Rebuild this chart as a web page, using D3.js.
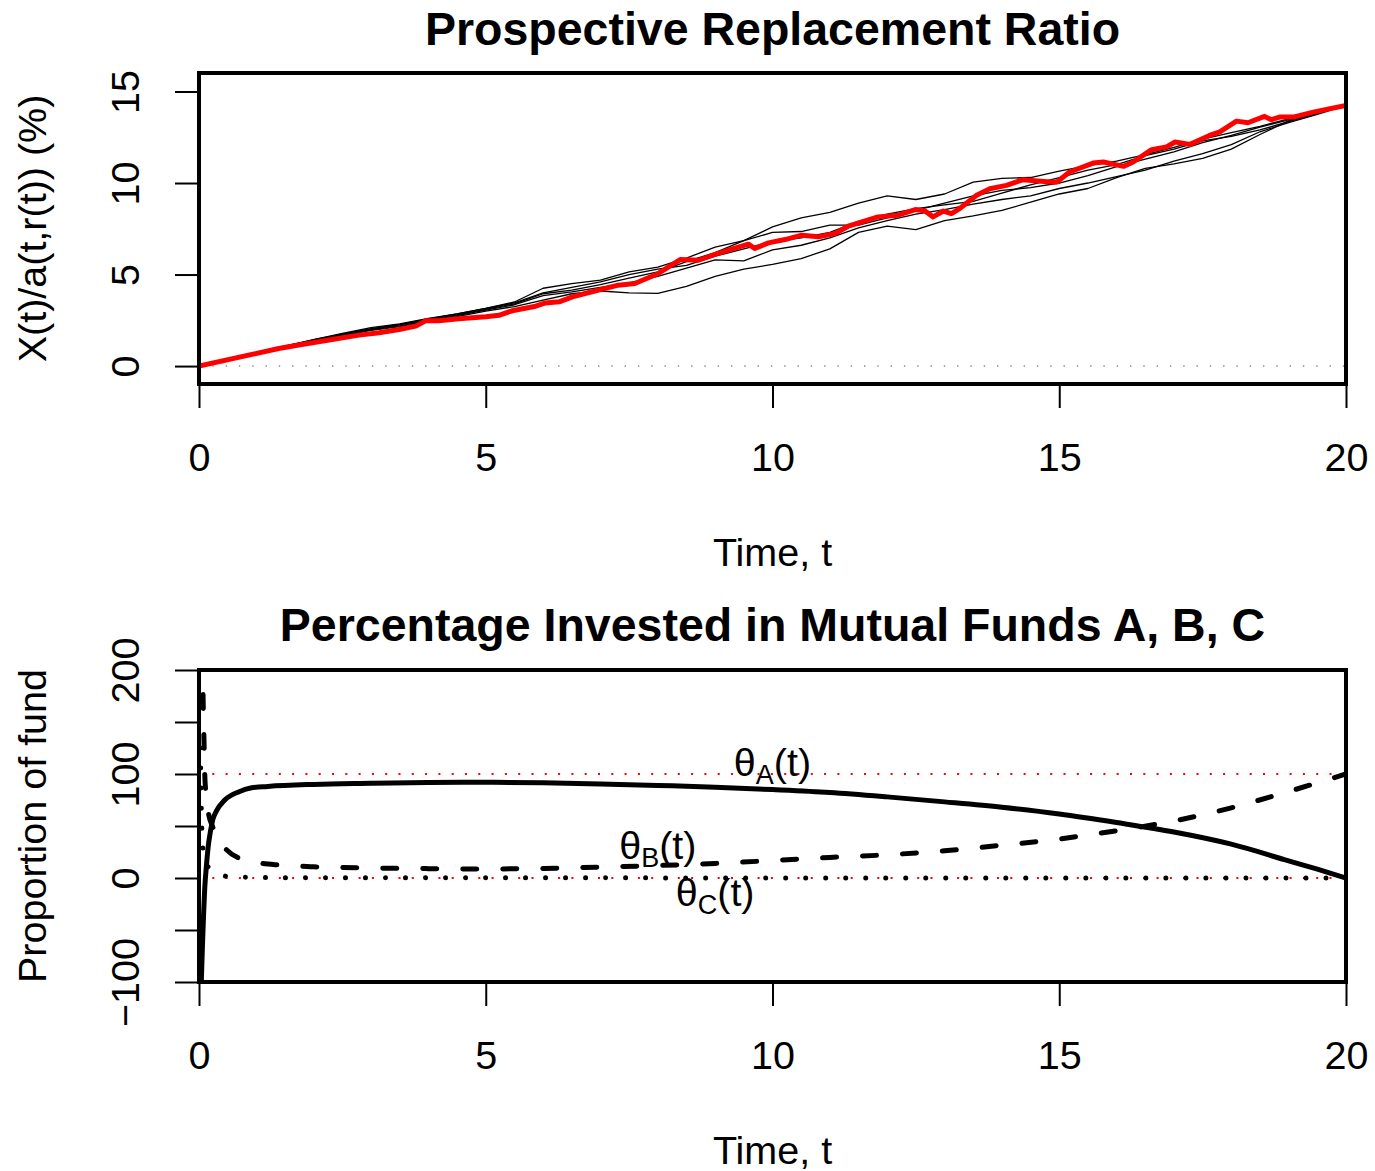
<!DOCTYPE html>
<html>
<head>
<meta charset="utf-8">
<script src="https://cdn.jsdelivr.net/npm/d3@7"></script>
<style>
  body { margin: 0; background: #fff; }
  text { font-family: "Liberation Sans", Arial, Helvetica, sans-serif; fill: #000; }
</style>
</head>
<body>
<svg id="chart" width="1375" height="1171"></svg>
<script>
// ---------- data ----------
// time grid shared by the five simulated paths (years)
const simT = [0,0.5,1,1.5,2,2.5,3,3.5,4,4.5,5,5.5,6,6.5,7,7.5,8,8.5,9,9.5,10,
              10.5,11,11.5,12,12.5,13,13.5,14,14.5,15,15.5,16,16.5,17,17.5,18,18.5,19,19.5,20];
// simulated replacement-ratio paths (%)
const simPath1 = [0,0.35,0.7,1.08,1.45,1.78,2.1,2.3,2.6,2.85,3.15,3.5,4.25,4.5,4.7,5.15,5.4,5.9,6.5,6.85,7.6,
                  8.1,8.4,8.9,9.3,9.1,9.4,10.05,10.25,10.3,10.65,10.95,11.2,11.55,11.95,12.4,12.75,13.1,13.5,13.85,14.24];
const simPath2 = [0,0.36,0.72,1.1,1.42,1.72,2.0,2.25,2.55,2.8,3.1,3.4,3.95,4.15,4.45,4.8,5.15,5.7,6.2,6.85,7.3,
                  7.35,7.7,7.7,8.1,8.5,8.9,9.3,9.6,9.75,10.0,10.4,10.9,11.3,11.7,12.2,12.6,13.05,13.45,13.8,14.24];
const simPath3 = [0,0.34,0.7,1.05,1.4,1.7,1.98,2.2,2.5,2.75,3.05,3.35,3.85,4.05,4.3,4.55,4.9,5.35,5.8,5.75,6.35,
                  6.6,7.0,7.55,7.95,8.3,8.55,8.85,9.1,9.3,9.7,10.0,10.35,10.7,11.2,11.6,12.1,12.8,13.3,13.75,14.24];
const simPath4 = [0,0.36,0.71,1.08,1.45,1.75,2.05,2.28,2.58,2.85,3.15,3.45,4.0,4.3,4.6,5.0,5.3,5.5,6.0,6.4,6.8,
                  7.0,7.3,7.9,8.3,8.6,8.8,9.0,9.45,9.9,10.3,10.7,11.0,11.5,11.85,12.3,12.55,12.9,13.35,13.8,14.24];
const simPath5 = [0,0.35,0.7,1.05,1.38,1.65,1.95,2.15,2.45,2.7,3.0,3.25,3.6,3.95,4.1,4.0,3.97,4.35,4.9,5.3,5.55,
                  5.87,6.4,7.3,7.65,7.45,7.95,8.2,8.5,8.95,9.4,9.7,10.3,10.8,11.05,11.35,11.85,12.65,13.4,13.85,14.24];
const simPaths = [simPath1, simPath2, simPath3, simPath4, simPath5];

// highlighted path
const redT = [0,1.39,1.74,2.32,2.79,3.14,3.49,3.78,3.95,4.18,4.53,5.0,5.23,5.46,5.87,6.04,6.28,6.51,6.8,7.31,7.6,
              8.01,8.39,8.71,9.05,9.29,9.58,9.69,9.93,10.22,10.51,10.8,11.09,11.32,11.56,11.84,12.19,12.49,12.66,
              12.8,12.98,13.12,13.27,13.56,13.79,14.08,14.37,14.84,14.96,15.18,15.59,15.77,16.12,16.29,16.61,16.87,
              17.02,17.28,17.62,17.8,18.09,18.29,18.58,18.7,18.84,19.08,19.43,20];
const redV = [0,0.96,1.15,1.45,1.69,1.82,2.0,2.18,2.47,2.47,2.58,2.69,2.77,3.02,3.27,3.45,3.51,3.78,4.02,4.42,4.51,
              5.06,5.82,5.78,6.15,6.39,6.66,6.42,6.73,6.91,7.15,7.06,7.24,7.64,7.87,8.15,8.24,8.55,8.47,
              8.15,8.47,8.33,8.62,9.33,9.69,9.87,10.18,10.06,10.06,10.6,11.09,11.15,10.91,11.15,11.82,11.97,
              12.24,12.11,12.6,12.79,13.38,13.29,13.64,13.46,13.6,13.6,13.87,14.24];

// fund proportions (%)
const fundAT = [0.04,0.06,0.08,0.1,0.13,0.16,0.2,0.24,0.3,0.45,0.7,0.9,1.2,2,3,4,5,6,7,8,9,10,11,12,13,14,15,16,17,18,19,19.5,20];
const fundAV = [-100,-65,-35,-10,12,30,45,56,64,75,83,86.5,88,90,91,91.8,92,91.5,90.5,89,87.3,85,82.2,78,73.2,68,61.5,53.3,44.2,32.5,16.5,8.5,0];
const fundBT = [0.06,0.07,0.08,0.09,0.1,0.12,0.16,0.24,0.35,0.45,0.7,1.1,1.4,2,3,4,5,6,7,8,9,10,11,12,13,14,15,16,17,18,19,20];
const fundBV = [215,178,150,125,100,82,64,49,37,29,19,14,12.5,10.8,9.6,9,8.7,9.2,10.5,12,14,16.8,19.8,22.3,26.2,31.5,37.5,45.5,54.8,67.5,83.2,100];
const fundCT = [0.02,0.03,0.04,0.05,0.07,0.1,0.2,0.35,0.5,1,2,5,10,15,20];
const fundCV = [125,105,70,45,26,15,9,4,1.5,0.5,0.3,0.2,0.1,0.1,0];

// axes
const xTicks = [0,5,10,15,20];
const topYTicks = [0,5,10,15];
const botYTicks = [-100,-50,0,50,100,150,200];
const botYLabels = [-100,0,100,200];
const refLevels = [0,100];

// curve labels: [t, value]
const labelA = [10,110];
const labelB = [8,30];
const labelC = [9,-15];

// ---------- drawing ----------
const svg = d3.select("#chart");
svg.append("rect").attr("width",1375).attr("height",1171).attr("fill","#fff");

const FS = 39.5;           // base font size
const FS_MAIN = 46.5;      // panel titles
const plotL = 199, plotR = 1346;
const x = d3.scaleLinear().domain([0,20]).range([plotL, plotR]);

const topBox = {top:73, bottom:384};
const botBox = {top:670, bottom:982};
const yTop = d3.scaleLinear().domain([-0.98,16.01]).range([topBox.bottom, topBox.top]);
const yBot = d3.scaleLinear().domain([-100,200]).range([botBox.bottom, botBox.top]);

const numFmt = d3.format("");

function panel(id, box, y, yTicks, yLabelVals, title, titleBase, xLabBase, ylab) {
  const g = svg.append("g");
  g.append("clipPath").attr("id", id)
    .append("rect").attr("x", plotL).attr("y", box.top)
    .attr("width", plotR - plotL).attr("height", box.bottom - box.top);

  // x axis
  const ax = g.append("g").attr("transform", `translate(0,${box.bottom})`)
    .call(d3.axisBottom(x).tickValues(xTicks).tickSize(24).tickSizeOuter(0).tickFormat(d3.format("d")));
  ax.select(".domain").remove();
  ax.selectAll(".tick line").attr("stroke","#000").attr("stroke-width",2);
  ax.selectAll(".tick text").attr("y", 87).attr("dy", 0)
    .style("font-size", FS + "px").attr("fill","#000");

  // y axis (labels rotated)
  const ay = g.append("g").attr("transform", `translate(${plotL},0)`)
    .call(d3.axisLeft(y).tickValues(yTicks).tickSize(24).tickSizeOuter(0)
      .tickFormat(d => yLabelVals.includes(d) ? numFmt(d) : ""));
  ay.select(".domain").remove();
  ay.selectAll(".tick line").attr("stroke","#000").attr("stroke-width",2);
  ay.selectAll(".tick text").attr("x", 0).attr("dy", 0)
    .attr("transform", `translate(${139 - plotL},0) rotate(-90)`)
    .attr("text-anchor","middle")
    .style("font-size", FS + "px").attr("fill","#000");

  // titles
  g.append("text").attr("x", (plotL + plotR) / 2).attr("y", titleBase)
    .attr("text-anchor","middle").style("font-size", FS_MAIN + "px").style("font-weight","bold").text(title);
  g.append("text").attr("x", (plotL + plotR) / 2).attr("y", xLabBase)
    .attr("text-anchor","middle").style("font-size", FS + "px").text("Time, t");
  g.append("text").attr("transform", `translate(46,${(box.top + box.bottom) / 2}) rotate(-90)`)
    .attr("text-anchor","middle").style("font-size", FS + "px").text(ylab);

  const plot = g.append("g").attr("clip-path", `url(#${id})`);
  return {g, plot};
}

function frame(g, box) {
  g.append("rect").attr("x", plotL).attr("y", box.top)
    .attr("width", plotR - plotL).attr("height", box.bottom - box.top)
    .attr("fill","none").attr("stroke","#000").attr("stroke-width",4);
}

// ---- top panel ----
const P1 = panel("clipTop", topBox, yTop, topYTicks, topYTicks,
  "Prospective Replacement Ratio", 45, 566, "X(t)/a(t,r(t)) (%)");

P1.plot.append("line")
  .attr("x1", x(0)).attr("x2", x(20)).attr("y1", yTop(0)).attr("y2", yTop(0))
  .attr("stroke","#8a8a8a").attr("stroke-width",1.4).attr("stroke-dasharray","1.4,11.9");

const lineTop = d3.line().x(d => x(d[0])).y(d => yTop(d[1]));
simPaths.forEach(p => {
  P1.plot.append("path").datum(simT.map((t,i) => [t, p[i]]))
    .attr("d", lineTop).attr("fill","none").attr("stroke","#000")
    .attr("stroke-width",1.3).attr("stroke-linejoin","round");
});
P1.plot.append("path").datum(redT.map((t,i) => [t, redV[i]]))
  .attr("d", lineTop).attr("fill","none").attr("stroke","#ff0000")
  .attr("stroke-width",5).attr("stroke-linejoin","round").attr("stroke-linecap","round");
frame(P1.g, topBox);

// ---- bottom panel ----
const P2 = panel("clipBot", botBox, yBot, botYTicks, botYLabels,
  "Percentage Invested in Mutual Funds A, B, C", 641, 1164, "Proportion of fund");

refLevels.forEach(v => {
  P2.plot.append("line")
    .attr("x1", x(0)).attr("x2", x(20)).attr("y1", yBot(v)).attr("y2", yBot(v))
    .attr("stroke","#ff0000").attr("stroke-width",2).attr("stroke-dasharray","2,11.3");
});

const lineBot = d3.line().curve(d3.curveMonotoneX).x(d => x(d[0])).y(d => yBot(d[1]));
P2.plot.append("path").datum(fundAT.map((t,i) => [t, fundAV[i]]))
  .attr("d", lineBot).attr("fill","none").attr("stroke","#000")
  .attr("stroke-width",5).attr("stroke-linejoin","round").attr("stroke-linecap","round");
P2.plot.append("path").datum(fundBT.map((t,i) => [t, fundBV[i]]))
  .attr("d", lineBot).attr("fill","none").attr("stroke","#000")
  .attr("stroke-width",5).attr("stroke-linecap","round").attr("stroke-dasharray","14,26");
P2.plot.append("path").datum(fundCT.map((t,i) => [t, fundCV[i]]))
  .attr("d", lineBot).attr("fill","none").attr("stroke","#000")
  .attr("stroke-width",5).attr("stroke-linecap","round").attr("stroke-dasharray","0.01,20");
frame(P2.g, botBox);

// curve labels θ_A(t), θ_B(t), θ_C(t)
[[labelA,"A"],[labelB,"B"],[labelC,"C"]].forEach(([pos, sub]) => {
  const t = P2.g.append("text").attr("x", x(pos[0])).attr("y", yBot(pos[1]) + 12)
    .attr("text-anchor","middle").style("font-size", FS + "px");
  t.append("tspan").text("θ");
  t.append("tspan").attr("dy", 8).style("font-size","27px").text(sub);
  t.append("tspan").attr("dy", -8).text("(t)");
});
</script>
</body>
</html>
